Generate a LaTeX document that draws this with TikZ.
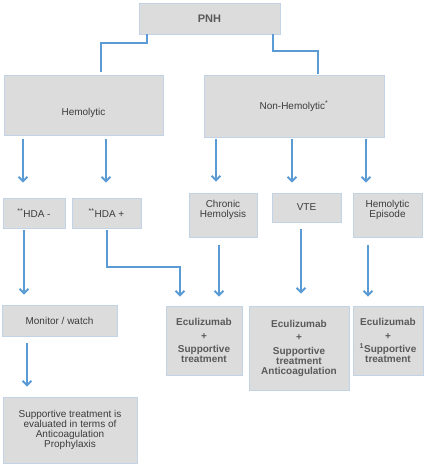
\documentclass[tikz,border=0pt]{standalone}
\usepackage{fontspec}
\setmainfont{Liberation Sans}
\usetikzlibrary{arrows.meta}
\definecolor{boxfill}{HTML}{DCDCDC}
\definecolor{boxline}{HTML}{C3D3E6}
\definecolor{linkblue}{HTML}{5B9BD5}
\definecolor{textgray}{HTML}{3C3C3C}
\definecolor{ecugray}{HTML}{5A5A5A}

\begin{document}
\begin{tikzpicture}[x=1pt,y=-1pt,
  box/.style={draw=boxline,line width=0.8pt,fill=boxfill,inner sep=0pt,align=center,
    text=textgray,font=\fontsize{10}{10}\selectfont},
  ecubox/.style={box,text=ecugray,font=\fontsize{10}{10}\selectfont\bfseries},
  joint/.style={draw=linkblue,line width=1.9pt},
  flow/.style={joint,-{Straight Barb[length=4.5pt,width=9pt]}}]
\useasboundingbox (0,0) rectangle (424,464);
% top level
\node[ecubox,minimum width=141pt,minimum height=31pt,font=\fontsize{11}{11}\selectfont\bfseries] (pnh) at (209.5,18.5) {PNH};
\node[box,minimum width=159pt,minimum height=60pt] (hemo) at (83.5,105) {\raisebox{-10.5pt}[0pt][0pt]{Hemolytic}};
\node[box,minimum width=180pt,minimum height=62pt] (nonhemo) at (294,106) {Non-Hemolytic\textsuperscript{*}};
% second row
\node[box,minimum width=62pt,minimum height=30pt] (hdaneg) at (34,213) {\textsuperscript{**}HDA -};
\node[box,minimum width=69pt,minimum height=30pt] (hdapos) at (106.5,213) {\textsuperscript{**}HDA +};
\node[box,minimum width=68pt,minimum height=44pt] (chronic) at (223,215) {Chronic\\Hemolysis\\[3pt]};
\node[box,minimum width=69pt,minimum height=29pt] (vte) at (306.5,207.5) {VTE};
\node[box,minimum width=69pt,minimum height=44pt] (episode) at (387.5,215) {Hemolytic\\Episode\\[3pt]};
% third row
\node[box,minimum width=115pt,minimum height=31pt] (monitor) at (59.5,320.5) {Monitor / watch};
\node[box,minimum width=134pt,minimum height=66pt] (support) at (70,430)
  {Supportive treatment is\\evaluated in terms of\\Anticoagulation\\Prophylaxis};
\node[ecubox,minimum width=76pt,minimum height=69pt] (ecuA) at (204,340.5)
  {Eculizumab\\[3.5pt]+\\[3.5pt]Supportive\\treatment};
\node[ecubox,minimum width=100pt,minimum height=84pt] (ecuB) at (299,348)
  {Eculizumab\\[3.5pt]+\\[3.5pt]Supportive\\treatment\\Anticoagulation};
\node[ecubox,minimum width=70pt,minimum height=69pt] (ecuC) at (388,340.5)
  {Eculizumab\\[3.5pt]+\\[3.5pt]\textsuperscript{1}Supportive\\treatment};
% connectors
\draw[joint,shorten >=3pt] ([xshift=-62.5pt]pnh.south) -- ++(0,9) -| ([xshift=17.5pt]hemo.north);
\draw[joint,shorten >=1pt] ([xshift=63.5pt]pnh.south) -- ++(0,17) -| ([xshift=24pt]nonhemo.north);
\draw[flow,shorten <=4pt,shorten >=15pt] ([xshift=-60.5pt]hemo.south) -- ([xshift=-11pt]hdaneg.north);
\draw[flow,shorten <=4pt,shorten >=15pt] ([xshift=22.5pt]hemo.south) -- ([xshift=-0.5pt]hdapos.north);
\draw[flow,shorten <=2pt,shorten >=11pt] ([xshift=-78pt]nonhemo.south) -- ([xshift=-7pt]chronic.north);
\draw[flow,shorten <=2pt,shorten >=10pt] ([xshift=-2pt]nonhemo.south) -- ([xshift=-14.5pt]vte.north);
\draw[flow,shorten <=2pt,shorten >=10pt] ([xshift=72pt]nonhemo.south) -- ([xshift=-21.5pt]episode.north);
\draw[flow,shorten <=2pt,shorten >=10pt] ([xshift=-10pt]hdaneg.south) -- ([xshift=-35.5pt]monitor.north);
\draw[flow,shorten <=2pt,shorten >=9pt] ([xshift=0.5pt]hdapos.south) -- ++(0,39) -| ([xshift=-24pt]ecuA.north);
\draw[flow,shorten <=8pt,shorten >=9pt] ([xshift=-4pt]chronic.south) -- ([xshift=15pt]ecuA.north);
\draw[flow,shorten <=7pt,shorten >=12pt] ([xshift=-5.5pt]vte.south) -- ([xshift=2pt]ecuB.north);
\draw[flow,shorten <=8pt,shorten >=9pt] ([xshift=-19.5pt]episode.south) -- ([xshift=-20pt]ecuC.north);
\draw[flow,shorten <=7pt,shorten >=10pt] ([xshift=-32.5pt]monitor.south) -- ([xshift=-43pt]support.north);
\end{tikzpicture}
\end{document}
